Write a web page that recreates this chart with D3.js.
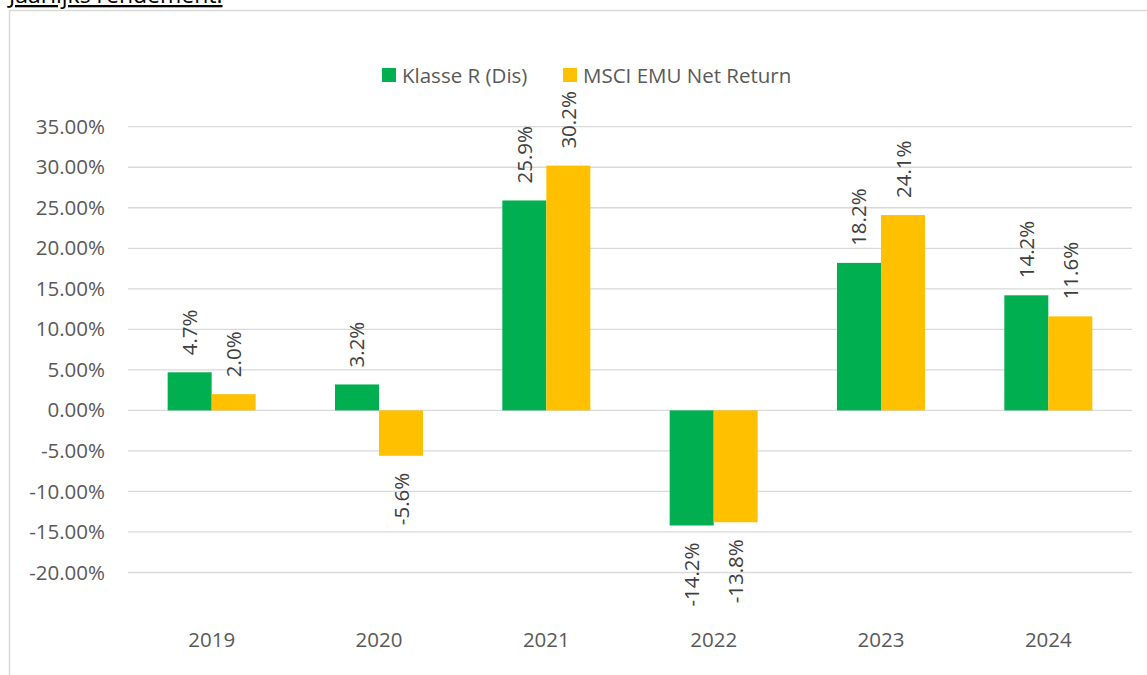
<!DOCTYPE html>
<html>
<head>
<meta charset="utf-8">
<script src="https://cdn.jsdelivr.net/npm/d3@7"></script>
<style>
  html, body { margin: 0; padding: 0; background: #fff; overflow: hidden; }
  svg { display: block; font-family: "Open Sans", "Noto Sans", sans-serif; }
</style>
</head>
<body>
<div id="chart"></div>
<script>
// Jaarlijks rendement: fund class R (Dis) against MSCI EMU Net Return, per year.
const years = ["2019", "2020", "2021", "2022", "2023", "2024"];
const seriesNames = ["Klasse R (Dis)", "MSCI EMU Net Return"];
const klasseR = [4.7, 3.2, 25.9, -14.2, 18.2, 14.2];
const msciEmu = [2.0, -5.6, 30.2, -13.8, 24.1, 11.6];
const yTicks = [-20, -15, -10, -5, 0, 5, 10, 15, 20, 25, 30, 35];
const colors = ["#00B050", "#FFC000"];

const width = 1147, height = 675;
const fontSize = 20.5;
const svg = d3.select("#chart").append("svg")
  .attr("width", width).attr("height", height).attr("viewBox", `0 0 ${width} ${height}`);

// heading above the chart frame, cut off at the top edge
svg.append("text").attr("x", 9).attr("y", 3)
  .attr("fill", "#000").attr("font-size", 23).attr("text-decoration", "underline")
  .text("Jaarlijks rendement:");

// chart frame
svg.append("rect").attr("x", 9.5).attr("y", 10.5).attr("width", 1160).attr("height", 700)
  .attr("fill", "#fff").attr("stroke", "#d9d9d9").attr("stroke-width", 1.5);

const x = d3.scaleBand().domain(years).range([128, 1132]).paddingInner(0.474).paddingOuter(0.237);
const xs = d3.scaleBand().domain(seriesNames).range([0, x.bandwidth()]);
const y = d3.scaleLinear().domain([-20, 35]).range([572.5, 126.7]);

const fmtTick = (v) => v.toFixed(2) + "%";
const fmtLabel = (v) => v.toFixed(1) + "%";

// gridlines
svg.append("g").selectAll("line").data(yTicks).join("line")
  .attr("x1", 128).attr("x2", 1132)
  .attr("y1", (d) => y(d)).attr("y2", (d) => y(d))
  .attr("stroke", "#d9d9d9").attr("stroke-width", 1.3);

// y axis labels
const yAxis = svg.append("g").attr("transform", "translate(128,0)")
  .call(d3.axisLeft(y).tickValues(yTicks).tickFormat(fmtTick).tickSize(0).tickPadding(23));
yAxis.select(".domain").remove();
yAxis.selectAll("text").attr("fill", "#595959").attr("font-size", fontSize)
  .attr("font-family", "'Open Sans', 'Noto Sans', sans-serif");

// category labels
const xAxis = svg.append("g").attr("transform", "translate(0,632)")
  .call(d3.axisBottom(x).tickSize(0).tickPadding(0));
xAxis.select(".domain").remove();
xAxis.selectAll("text").attr("fill", "#595959").attr("font-size", fontSize)
  .attr("font-family", "'Open Sans', 'Noto Sans', sans-serif");

const series = [klasseR, msciEmu];
series.forEach((vals, si) => {
  const rows = years.map((yr, i) => ({ year: yr, v: vals[i] }));
  const g = svg.append("g");
  g.selectAll("rect").data(rows).join("rect")
    .attr("x", (d) => x(d.year) + xs(seriesNames[si]))
    .attr("width", xs.bandwidth())
    .attr("y", (d) => y(Math.max(0, d.v)))
    .attr("height", (d) => Math.abs(y(d.v) - y(0)))
    .attr("fill", colors[si]);
  g.selectAll("text").data(rows).join("text")
    .attr("transform", (d) => {
      const cx = x(d.year) + xs(seriesNames[si]) + xs.bandwidth() / 2 + 7.5;
      const cy = d.v >= 0 ? y(d.v) - 17 : y(d.v) + 17;
      return `translate(${cx},${cy}) rotate(-90)`;
    })
    .attr("text-anchor", (d) => (d.v >= 0 ? "start" : "end"))
    .attr("fill", "#404040").attr("font-size", fontSize)
    .text((d) => fmtLabel(d.v));
});

// legend
const legend = svg.append("g").attr("transform", "translate(382,68)");
const legX = [0, 181];
seriesNames.forEach((name, i) => {
  legend.append("rect").attr("x", legX[i]).attr("y", 0).attr("width", 14).attr("height", 14).attr("fill", colors[i]);
  legend.append("text").attr("x", legX[i] + 20).attr("y", 14.5)
    .attr("fill", "#595959").attr("font-size", fontSize).text(name);
});
</script>
</body>
</html>
